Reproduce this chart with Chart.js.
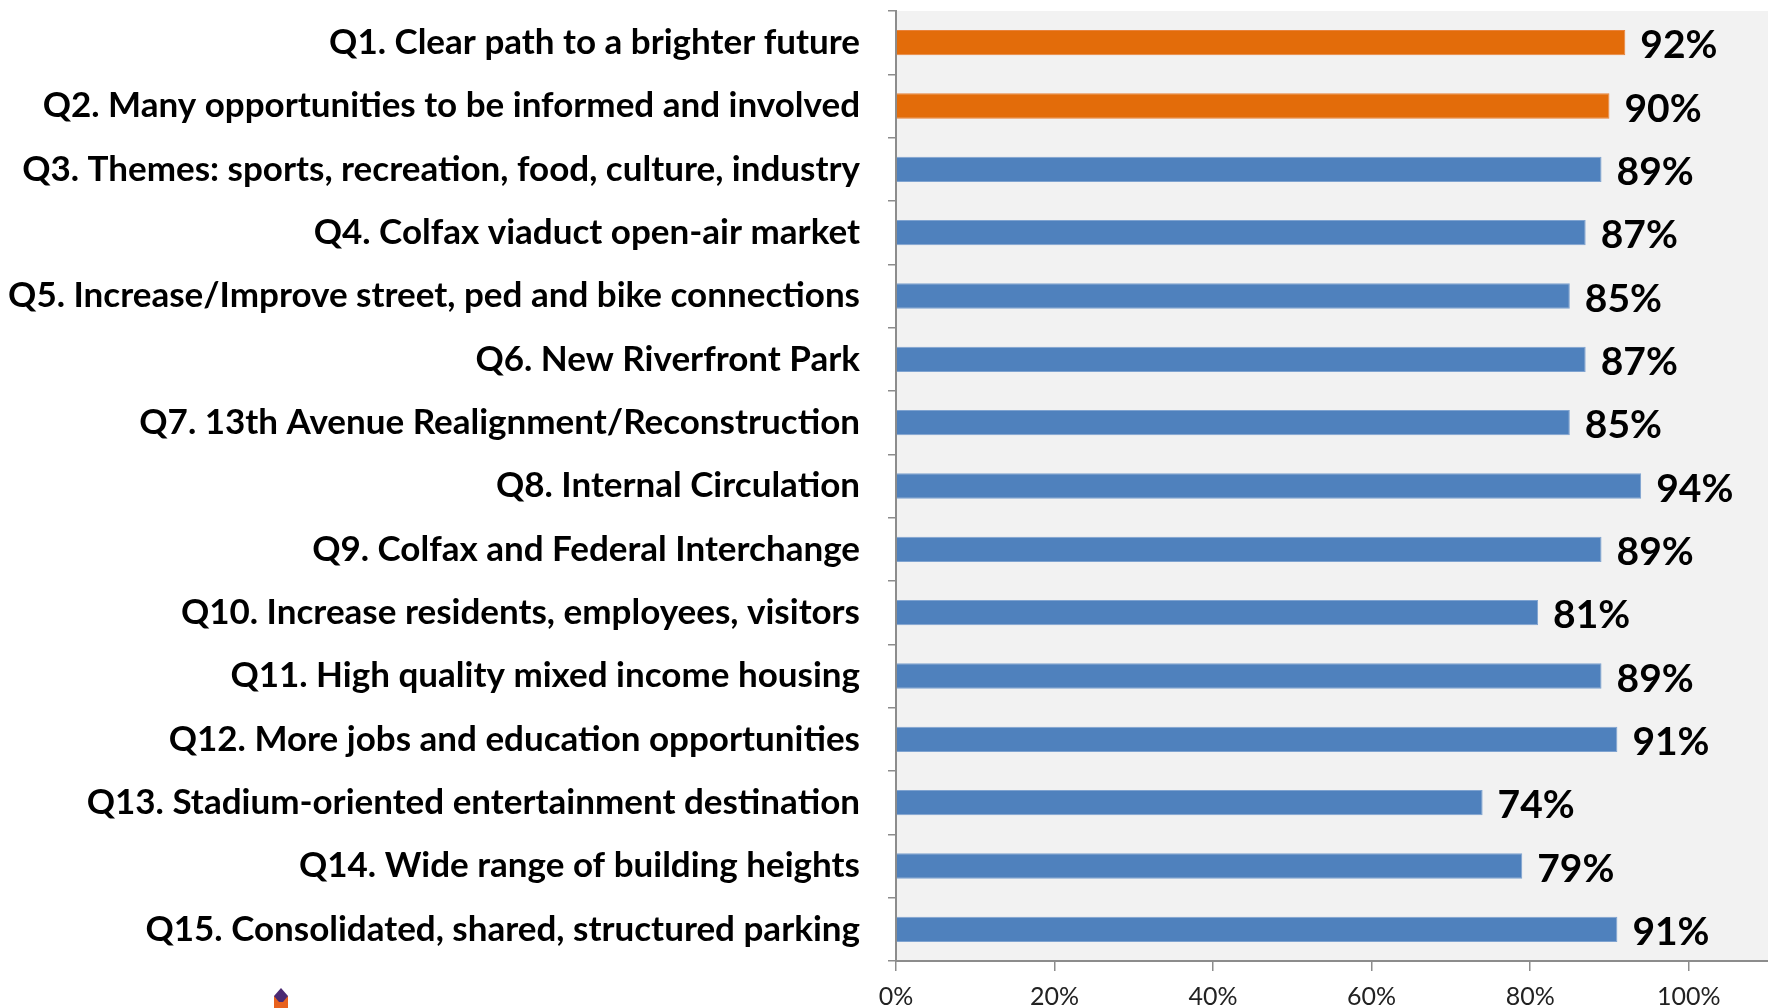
<!DOCTYPE html>
<html>
<head>
<meta charset="utf-8">
<script src="https://cdn.jsdelivr.net/npm/chart.js@4/dist/chart.umd.min.js"></script>
<style>
  html, body { margin: 0; padding: 0; background: #ffffff; }
  #chart { display: block; }
</style>
</head>
<body>
<canvas id="chart" width="1768" height="1008"></canvas>
<script>
// Survey questions and share of positive responses (%)
const categories = [
  "Q1. Clear path to a brighter future",
  "Q2. Many opportunities to be informed and involved",
  "Q3. Themes: sports, recreation, food, culture, industry",
  "Q4. Colfax viaduct open-air market",
  "Q5. Increase/Improve street, ped and bike connections",
  "Q6. New Riverfront Park",
  "Q7. 13th Avenue Realignment/Reconstruction",
  "Q8. Internal Circulation",
  "Q9. Colfax and Federal Interchange",
  "Q10. Increase residents, employees, visitors",
  "Q11. High quality mixed income housing",
  "Q12. More jobs and education opportunities",
  "Q13. Stadium-oriented entertainment destination",
  "Q14. Wide range of building heights",
  "Q15. Consolidated, shared, structured parking"
];
const values = [92, 90, 89, 87, 85, 87, 85, 94, 89, 81, 89, 91, 74, 79, 91];
// Questions shown in the highlight colour
const highlighted = [true, true, false, false, false, false, false, false, false, false, false, false, false, false, false];
const xTicks = [0, 20, 40, 60, 80, 100];

const ORANGE = "#E36C0A";
const BLUE = "#4F81BD";

const plotBackground = {
  id: "plotBackground",
  beforeDraw(chart) {
    const { ctx, chartArea: a } = chart;
    ctx.save();
    ctx.fillStyle = "#F2F2F2";
    ctx.fillRect(a.left, a.top, a.right - a.left, a.bottom - a.top);
    ctx.restore();
  }
};

// Small pencil glyph in the lower-left corner of the slide
const pencilGlyph = {
  id: "pencilGlyph",
  afterDraw(chart) {
    const { ctx } = chart;
    const x = 281, y = 998;
    ctx.save();
    ctx.fillStyle = "#E8621E";
    ctx.fillRect(x - 7, y - 2, 14, 12);
    ctx.fillStyle = "#4B2A73";
    ctx.beginPath();
    ctx.moveTo(x, y - 10);
    ctx.lineTo(x + 7, y - 2);
    ctx.lineTo(x + 2, y + 4);
    ctx.lineTo(x - 2, y + 4);
    ctx.lineTo(x - 7, y - 2);
    ctx.closePath();
    ctx.fill();
    ctx.restore();
  }
};

const valueLabels = {
  id: "valueLabels",
  afterDatasetsDraw(chart) {
    const { ctx } = chart;
    const meta = chart.getDatasetMeta(0);
    ctx.save();
    ctx.font = "bold 39px Lato, 'Open Sans', sans-serif";
    ctx.fillStyle = "#000000";
    ctx.textAlign = "left";
    ctx.textBaseline = "middle";
    meta.data.forEach((bar, i) => {
      ctx.fillText(values[i] + "%", bar.x + 15, bar.y + 3);
    });
    ctx.restore();
  }
};

new Chart(document.getElementById("chart"), {
  type: "bar",
  data: {
    labels: categories,
    datasets: [{
      data: values,
      backgroundColor: highlighted.map(h => h ? ORANGE : BLUE),
      borderColor: highlighted.map(h => h ? "#E9823A" : "#7FA3D0"),
      borderWidth: 1,
      categoryPercentage: 1,
      barPercentage: 0.4
    }]
  },
  options: {
    indexAxis: "y",
    responsive: false,
    animation: false,
    devicePixelRatio: 1,
    layout: { autoPadding: false, padding: { top: 11, right: 0, bottom: 0, left: 0 } },
    plugins: { legend: { display: false }, tooltip: { enabled: false } },
    scales: {
      x: {
        min: 0,
        max: 110,
        afterBuildTicks(scale) {
          scale.ticks = xTicks.map(v => ({ value: v }));
        },
        grid: { drawOnChartArea: false, tickLength: 10, color: "#8C8C8C", lineWidth: 1.5 },
        border: { color: "#8C8C8C", width: 2 },
        ticks: {
          padding: 11,
          color: "#222222",
          font: { family: "Lato, 'Open Sans', sans-serif", size: 25 },
          callback: v => v + "%"
        },
        afterFit(scale) {
          scale.height = 47;
          scale.paddingLeft = 0; scale.paddingRight = 0;
        }
      },
      y: {
        grid: { drawOnChartArea: false, tickLength: 8, color: "#8C8C8C", lineWidth: 1.5, offset: true },
        border: { color: "#8C8C8C", width: 2 },
        ticks: {
          padding: 28,
          color: "#000000",
          font: { family: "Lato, 'Open Sans', sans-serif", size: 35, weight: "bold" }
        },
        afterFit(scale) {
          scale.width = 896;
          scale.paddingTop = 0; scale.paddingBottom = 0;
        }
      }
    }
  },
  plugins: [plotBackground, valueLabels, pencilGlyph]
});
</script>
</body>
</html>
